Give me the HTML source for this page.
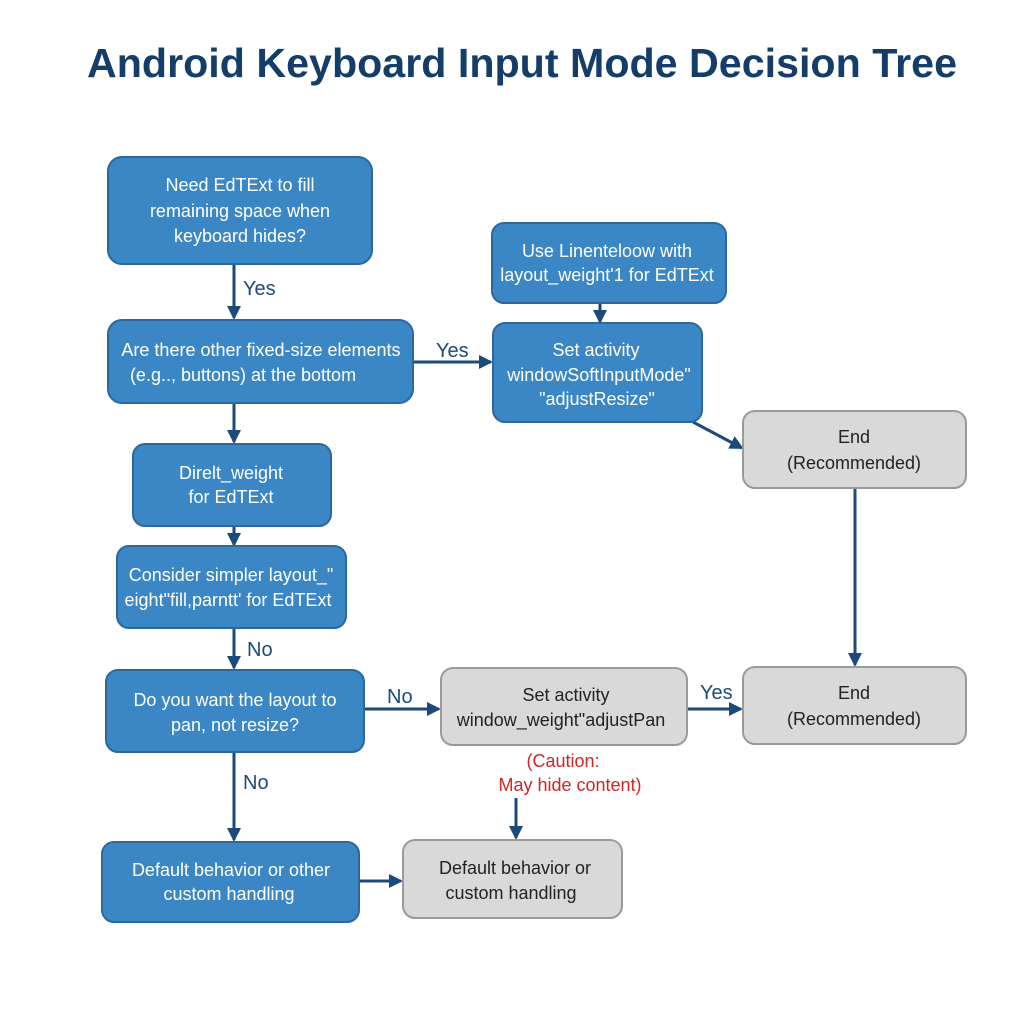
<!DOCTYPE html>
<html><head><meta charset="utf-8"><style>
html,body{margin:0;padding:0;background:#fff;}
svg{display:block;font-family:"Liberation Sans",sans-serif;}
.b{fill:#3b87c6;stroke:#2c679e;stroke-width:2;}
.g{fill:#d9d9d9;stroke:#9a9a9a;stroke-width:2;}
.tw{fill:#fff;font-size:18px;text-anchor:middle;}
.tg{fill:#222;font-size:18px;text-anchor:middle;}
.l{stroke:#1d4a78;stroke-width:3;fill:none;}
.lb{fill:#1d4a78;font-size:20px;font-weight:500;}
</style></head><body>
<svg width="1024" height="1024" viewBox="0 0 1024 1024">
<defs><marker id="m" markerWidth="14" markerHeight="14" refX="12" refY="7" orient="auto" markerUnits="userSpaceOnUse"><path d="M0,0 L14,7 L0,14 z" fill="#1d4a78"/></marker></defs>
<text x="522" y="77" text-anchor="middle" font-size="41" font-weight="bold" fill="#143d6a" textLength="870" lengthAdjust="spacingAndGlyphs">Android Keyboard Input Mode Decision Tree</text>

<line class="l" x1="234" y1="264" x2="234" y2="318" marker-end="url(#m)"/>
<line class="l" x1="234" y1="403" x2="234" y2="442" marker-end="url(#m)"/>
<line class="l" x1="234" y1="526" x2="234" y2="545" marker-end="url(#m)"/>
<line class="l" x1="234" y1="628" x2="234" y2="668" marker-end="url(#m)"/>
<line class="l" x1="234" y1="752" x2="234" y2="840" marker-end="url(#m)"/>
<line class="l" x1="413" y1="362" x2="491" y2="362" marker-end="url(#m)"/>
<line class="l" x1="600" y1="303" x2="600" y2="322" marker-end="url(#m)"/>
<line class="l" x1="693" y1="422" x2="742" y2="448" marker-end="url(#m)"/>
<line class="l" x1="855" y1="488" x2="855" y2="665" marker-end="url(#m)"/>
<line class="l" x1="364" y1="709" x2="439" y2="709" marker-end="url(#m)"/>
<line class="l" x1="687" y1="709" x2="741" y2="709" marker-end="url(#m)"/>
<line class="l" x1="516" y1="798" x2="516" y2="838" marker-end="url(#m)"/>
<line class="l" x1="359" y1="881" x2="401" y2="881" marker-end="url(#m)"/>

<text class="lb" x="243" y="295">Yes</text>
<text class="lb" x="436" y="357">Yes</text>
<text class="lb" x="247" y="656">No</text>
<text class="lb" x="243" y="789">No</text>
<text class="lb" x="387" y="703">No</text>
<text class="lb" x="700" y="699">Yes</text>

<rect class="b" x="108" y="157" width="264" height="107" rx="14"/>
<text class="tw" x="240" y="191">Need EdTExt to fill</text>
<text class="tw" x="240" y="217">remaining space when</text>
<text class="tw" x="240" y="242">keyboard hides?</text>

<rect class="b" x="108" y="320" width="305" height="83" rx="14"/>
<text class="tw" x="261" y="356">Are there other fixed-size elements</text>
<text class="tw" x="243" y="381">(e.g.., buttons) at the bottom</text>

<rect class="b" x="133" y="444" width="198" height="82" rx="12"/>
<text class="tw" x="231" y="479">Direlt_weight</text>
<text class="tw" x="231" y="503">for EdTExt</text>

<rect class="b" x="117" y="546" width="229" height="82" rx="12"/>
<text class="tw" x="231" y="581">Consider simpler layout_"</text>
<text class="tw" x="228" y="606">eight"fill,parntt' for EdTExt</text>

<rect class="b" x="106" y="670" width="258" height="82" rx="12"/>
<text class="tw" x="235" y="706">Do you want the layout to</text>
<text class="tw" x="235" y="731">pan, not resize?</text>

<rect class="b" x="102" y="842" width="257" height="80" rx="12"/>
<text class="tw" x="231" y="876">Default behavior or other</text>
<text class="tw" x="229" y="900">custom handling</text>

<rect class="b" x="492" y="223" width="234" height="80" rx="12"/>
<text class="tw" x="607" y="257">Use Linenteloow with</text>
<text class="tw" x="607" y="281">layout_weight'1 for EdTExt</text>

<rect class="b" x="493" y="323" width="209" height="99" rx="12"/>
<text class="tw" x="596" y="356">Set activity</text>
<text class="tw" x="599" y="381">windowSoftInputMode"</text>
<text class="tw" x="597" y="405">"adjustResize"</text>

<rect class="g" x="743" y="411" width="223" height="77" rx="12"/>
<text class="tg" x="854" y="443">End</text>
<text class="tg" x="854" y="469">(Recommended)</text>

<rect class="g" x="441" y="668" width="246" height="77" rx="12"/>
<text class="tg" x="566" y="701">Set activity</text>
<text class="tg" x="561" y="726">window_weight"adjustPan</text>

<rect class="g" x="743" y="667" width="223" height="77" rx="12"/>
<text class="tg" x="854" y="699">End</text>
<text class="tg" x="854" y="725">(Recommended)</text>

<text x="563" y="767" text-anchor="middle" font-size="18" fill="#d42424">(Caution:</text>
<text x="570" y="791" text-anchor="middle" font-size="18" fill="#d42424">May hide content)</text>

<rect class="g" x="403" y="840" width="219" height="78" rx="12"/>
<text class="tg" x="515" y="874">Default behavior or</text>
<text class="tg" x="511" y="899">custom handling</text>
</svg>
</body></html>
